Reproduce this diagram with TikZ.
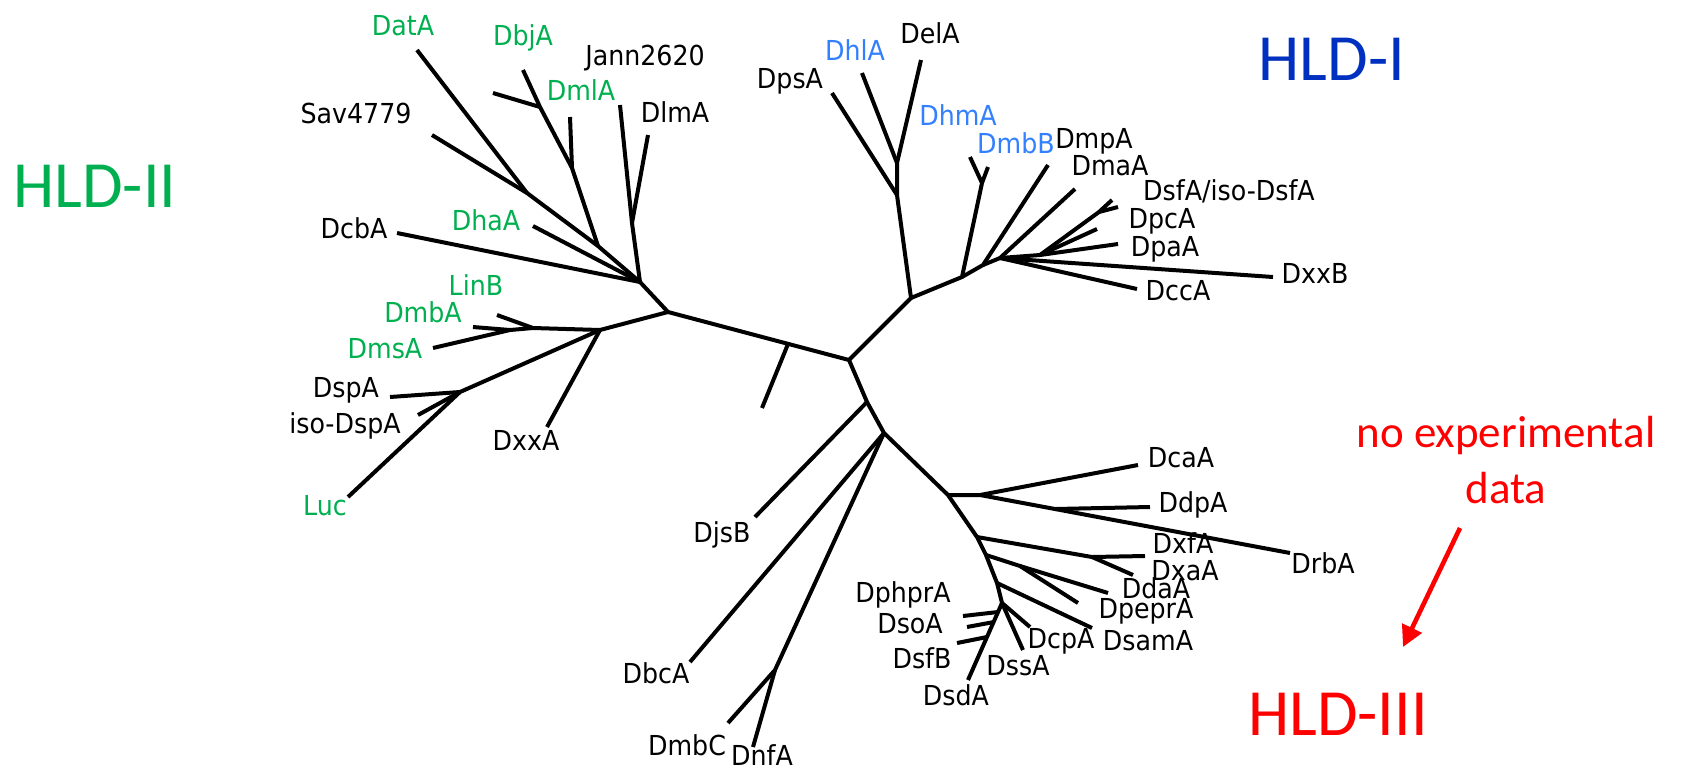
\documentclass[tikz,border=0pt]{standalone}
\usepackage{fontspec}
\usetikzlibrary{arrows.meta}
\newfontfamily\labfont[FakeStretch=0.92]{DejaVu Sans}
\newfontfamily\bigfont{Carlito}
\definecolor{hgreen}{HTML}{00B050}
\definecolor{hblue}{HTML}{3380FF}
\definecolor{hdblue}{HTML}{0030C0}
\definecolor{hred}{HTML}{FF0000}
\begin{document}
\begin{tikzpicture}[x=0.5pt,y=-0.5pt,
  edge/.style={line width=2pt,line join=round},
  lab/.style={font=\labfont\fontsize{13.75}{16}\selectfont,inner sep=0pt,anchor=base},
  glab/.style={lab,text=hgreen},
  blab/.style={lab,text=hblue},
  big/.style={font=\bigfont\fontsize{33}{36}\selectfont,inner sep=0pt,anchor=base},
  note/.style={font=\bigfont\fontsize{22.5}{26}\selectfont,inner sep=0pt,anchor=base,text=hred},
  redarrow/.style={draw=hred,line width=2.3pt,-{Triangle[width=10.5pt,length=10.5pt]}}]
\useasboundingbox (0,0) rectangle (1704,778);
% ---------- coordinates: HLD-II upper cluster
\coordinate (J0) at (668,312);
\coordinate (J1) at (640,282);
\coordinate (J3) at (632,223);
\coordinate (lJann) at (620,105);
\coordinate (lDlm) at (648,135);
\coordinate (lDcb) at (397,233);
\coordinate (lDha) at (533,226);
\coordinate (Jsd) at (527,193);
\coordinate (lDat) at (417,50);
\coordinate (lSav) at (432,135);
\coordinate (Jbj) at (598,246);
\coordinate (Jb1) at (572,168);
\coordinate (Jb2) at (540,107);
\coordinate (lDbj) at (523,70);
\coordinate (lX1) at (493,93);
\coordinate (lDml) at (570,117);
% ---------- HLD-II lower cluster
\coordinate (J2) at (600,330);
\coordinate (J5) at (533,328);
\coordinate (lLin) at (497,315);
\coordinate (J6) at (510,330);
\coordinate (lDmbA) at (473,327);
\coordinate (lDms) at (433,348);
\coordinate (J7) at (460,392);
\coordinate (lLuc) at (348,497);
\coordinate (lDsp) at (390,397);
\coordinate (lIso) at (418,415);
\coordinate (lDxxA) at (547,427);
% ---------- centre
\coordinate (C) at (849,360);
\coordinate (Jsb) at (788,344);
\coordinate (lsb) at (762,408);
% ---------- HLD-I
\coordinate (T1) at (911,298);
\coordinate (T2) at (897,195);
\coordinate (T3) at (897,163);
\coordinate (lDps) at (832,93);
\coordinate (lDhl) at (862,73);
\coordinate (lDel) at (921,60);
\coordinate (T4) at (962,277);
\coordinate (T5) at (982,183);
\coordinate (lT5a) at (970,157);
\coordinate (lT5b) at (988,167);
\coordinate (T6) at (983,265);
\coordinate (lDmp) at (1048,165);
\coordinate (T7) at (1000,258);
\coordinate (lDma) at (1075,189);
\coordinate (T8) at (1040,255);
\coordinate (Ts) at (1099,212);
\coordinate (lDsf1) at (1112,200);
\coordinate (lDsf2) at (1118,207);
\coordinate (lDpc) at (1097,229);
\coordinate (lDpa) at (1118,244);
\coordinate (lDxxB) at (1273,277);
\coordinate (lDcc) at (1137,289);
% ---------- HLD-III
\coordinate (K1) at (867,402);
\coordinate (lDjs) at (755,517);
\coordinate (K2) at (884,433);
\coordinate (lDbc) at (690,662);
\coordinate (K3) at (775,670);
\coordinate (lDmbC) at (728,723);
\coordinate (lDnf) at (753,747);
\coordinate (K4) at (948,495);
\coordinate (K5) at (980,495);
\coordinate (lDca) at (1138,465);
\coordinate (lDrb) at (1290,553);
\coordinate (Kd) at (1055,509);
\coordinate (lDdp) at (1150,507);
\coordinate (K6) at (977,537);
\coordinate (Kx) at (1092,557);
\coordinate (lDxf) at (1145,556);
\coordinate (lDxa) at (1133,575);
\coordinate (K7) at (986,555);
\coordinate (Kp) at (1020,566);
\coordinate (lDda) at (1108,593);
\coordinate (lDpep) at (1078,603);
\coordinate (K8) at (997,583);
\coordinate (lDsam) at (1092,628);
\coordinate (K9) at (1002,603);
\coordinate (lDcp) at (1030,627);
\coordinate (lDss) at (1023,650);
\coordinate (lDsd) at (968,680);
\coordinate (Kph) at (998,612);
\coordinate (lDph) at (963,616);
\coordinate (Kso) at (994,622);
\coordinate (lDso) at (967,627);
\coordinate (Ksf) at (987,637);
\coordinate (lDsf) at (957,643);
% ---------- edges
\draw[edge] (J0) -- (J1);
\draw[edge] (J1) -- (lDcb);
\draw[edge] (J1) -- (lDha);
\draw[edge] (J1) -- (J3) -- (lJann);
\draw[edge] (J3) -- (lDlm);
\draw[edge] (J1) -- (Jbj) -- (Jsd) -- (lSav);
\draw[edge] (Jsd) -- (lDat);
\draw[edge] (Jbj) -- (Jb1) -- (Jb2) -- (lDbj);
\draw[edge] (Jb2) -- (lX1);
\draw[edge] (Jb1) -- (lDml);
\draw[edge] (J0) -- (J2) -- (J5) -- (J6) -- (lDmbA);
\draw[edge] (J6) -- (lDms);
\draw[edge] (J5) -- (lLin);
\draw[edge] (J2) -- (J7) -- (lLuc);
\draw[edge] (J7) -- (lDsp);
\draw[edge] (J7) -- (lIso);
\draw[edge] (J2) -- (lDxxA);
\draw[edge] (J0) -- (C);
\draw[edge] (Jsb) -- (lsb);
\draw[edge] (C) -- (T1) -- (T2) -- (T3) -- (lDhl);
\draw[edge] (T3) -- (lDel);
\draw[edge] (T2) -- (lDps);
\draw[edge] (T1) -- (T4) -- (T5) -- (lT5a);
\draw[edge] (T5) -- (lT5b);
\draw[edge] (T4) -- (T6) -- (lDmp);
\draw[edge] (T6) -- (T7) -- (lDma);
\draw[edge] (T7) -- (T8) -- (Ts) -- (lDsf1);
\draw[edge] (Ts) -- (lDsf2);
\draw[edge] (T8) -- (lDpc);
\draw[edge] (T8) -- (lDpa);
\draw[edge] (T7) -- (lDxxB);
\draw[edge] (T7) -- (lDcc);
\draw[edge] (C) -- (K1) -- (K2) -- (K4) -- (K6) -- (K7) -- (K8) -- (K9) -- (lDsd);
\draw[edge] (K1) -- (lDjs);
\draw[edge] (K2) -- (lDbc);
\draw[edge] (K2) -- (K3) -- (lDmbC);
\draw[edge] (K3) -- (lDnf);
\draw[edge] (K4) -- (K5) -- (lDca);
\draw[edge] (K5) -- (Kd) -- (lDrb);
\draw[edge] (Kd) -- (lDdp);
\draw[edge] (K6) -- (Kx) -- (lDxf);
\draw[edge] (Kx) -- (lDxa);
\draw[edge] (K7) -- (Kp) -- (lDda);
\draw[edge] (Kp) -- (lDpep);
\draw[edge] (K8) -- (lDsam);
\draw[edge] (K9) -- (lDcp);
\draw[edge] (K9) -- (lDss);
\draw[edge] (Kph) -- (lDph);
\draw[edge] (Kso) -- (lDso);
\draw[edge] (Ksf) -- (lDsf);
% ---------- leaf labels
\node[glab] (tDatA) at (403,35) {DatA};
\node[glab] (tDbjA) at (523,45) {DbjA};
\node[lab] (tJann) at (645,65) {Jann2620};
\node[glab] (tDmlA) at (581,100) {DmlA};
\node[lab] (tDlmA) at (675,122) {DlmA};
\node[lab] (tSav) at (356,123) {Sav4779};
\node[lab] (tDcbA) at (354,238) {DcbA};
\node[glab] (tDhaA) at (486,230) {DhaA};
\node[glab] (tLinB) at (476,295) {LinB};
\node[glab] (tDmbA) at (423,322) {DmbA};
\node[glab] (tDmsA) at (385,358) {DmsA};
\node[lab] (tDspA) at (346,397) {DspA};
\node[lab] (tIso) at (345,433) {iso-DspA};
\node[lab] (tDxxA) at (526,450) {DxxA};
\node[glab] (tLuc) at (325,515) {Luc};
\node[lab] (tDpsA) at (790,88) {DpsA};
\node[blab] (tDhlA) at (855,60) {DhlA};
\node[lab] (tDelA) at (930,43) {DelA};
\node[blab] (tDhmA) at (958,125) {DhmA};
\node[blab] (tDmbB) at (1016,153) {DmbB};
\node[lab] (tDmpA) at (1094,148) {DmpA};
\node[lab] (tDmaA) at (1110,175) {DmaA};
\node[lab] (tDsfA) at (1229,200) {DsfA/iso-DsfA};
\node[lab] (tDpcA) at (1162,228) {DpcA};
\node[lab] (tDpaA) at (1165,256) {DpaA};
\node[lab] (tDxxB) at (1315,283) {DxxB};
\node[lab] (tDccA) at (1178,300) {DccA};
\node[lab] (tDjsB) at (722,542) {DjsB};
\node[lab] (tDbcA) at (656,683) {DbcA};
\node[lab] (tDmbC) at (687,755) {DmbC};
\node[lab] (tDnfA) at (762,765) {DnfA};
\node[lab] (tDcaA) at (1181,467) {DcaA};
\node[lab] (tDdpA) at (1193,512) {DdpA};
\node[lab] (tDxfA) at (1183,553) {DxfA};
\node[lab] (tDxaA) at (1185,580) {DxaA};
\node[lab] (tDdaA) at (1156,598) {DdaA};
\node[lab] (tDpeprA) at (1146,618) {DpeprA};
\node[lab] (tDsamA) at (1148,650) {DsamA};
\node[lab] (tDcpA) at (1061,648) {DcpA};
\node[lab] (tDssA) at (1018,675) {DssA};
\node[lab] (tDsdA) at (956,705) {DsdA};
\node[lab] (tDphprA) at (903,602) {DphprA};
\node[lab] (tDsoA) at (910,633) {DsoA};
\node[lab] (tDsfB) at (922,668) {DsfB};
\node[lab] (tDrbA) at (1323,573) {DrbA};
% ---------- group labels
\node[big,text=hgreen] (hII) at (95,207) {HLD-II};
\node[big,text=hdblue] (hI) at (1332,80) {HLD-I};
\node[big,text=hred] (hIII) at (1338,735) {HLD-III};
\node[note] (ne1) at (1506,447) {no experimental};
\node[note] (ne2) at (1506,503) {data};
\coordinate (a1) at (1460,528);
\coordinate (a2) at (1403,647);
\draw[redarrow] (a1) -- (a2);
\end{tikzpicture}
\end{document}
